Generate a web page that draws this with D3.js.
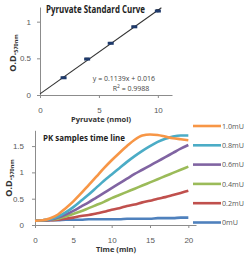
<!DOCTYPE html>
<html lang="en">
<head>
<meta charset="UTF-8">
<title>Pyruvate</title>
<script src="https://d3js.org/d3.v7.min.js"></script>
<style>
  body { margin: 0; background: #fff; }
  svg { display: block; font-family: "Open Sans", "Liberation Sans", sans-serif; }
  .tick text { fill: #595959; font-size: 8px; }
  .axis path, .axis line { stroke: #8c8c8c; }
</style>
</head>
<body>
<svg width="250" height="258"></svg>
<script>
// standard curve
var stdX = [2, 4, 6, 8, 10];
var stdY = [0.235, 0.49, 0.705, 0.93, 1.145];
var stdErr = [0.01, 0.012, 0.012, 0.01, 0.02];
var fitSlope = 0.1139, fitIntercept = 0.016;
var stdXTicks = [0, 5, 10];
var stdYTicks = [0, 0.5, 1];

// PK time line
var minutes = [0,1,2,3,4,5,6,7,8,9,10,11,12,13,14,15,16,17,18,19,20];
var seriesNames = ["1.0mU", "0.8mU", "0.6mU", "0.4mU", "0.2mU", "0mU"];
var od10 = [0.08,0.09,0.13,0.20,0.32,0.45,0.60,0.76,0.92,1.08,1.23,1.37,1.50,1.62,1.70,1.72,1.71,1.68,1.65,1.63,1.61];
var od08 = [0.08,0.09,0.11,0.16,0.24,0.34,0.46,0.58,0.71,0.84,0.96,1.08,1.20,1.31,1.41,1.50,1.58,1.64,1.68,1.70,1.70];
var od06 = [0.08,0.09,0.10,0.14,0.20,0.27,0.35,0.43,0.52,0.61,0.70,0.79,0.88,0.97,1.05,1.13,1.21,1.29,1.37,1.45,1.52];
var od04 = [0.08,0.09,0.10,0.12,0.16,0.21,0.26,0.32,0.38,0.44,0.51,0.57,0.63,0.69,0.75,0.81,0.87,0.93,0.99,1.05,1.11];
var od02 = [0.08,0.08,0.09,0.10,0.12,0.14,0.17,0.19,0.22,0.25,0.29,0.32,0.36,0.39,0.43,0.46,0.50,0.53,0.57,0.61,0.65];
var od00 = [0.08,0.08,0.09,0.09,0.10,0.10,0.10,0.11,0.11,0.11,0.11,0.11,0.12,0.12,0.12,0.12,0.13,0.13,0.13,0.14,0.14];
var seriesColors = ["#F79646", "#4BACC6", "#8064A2", "#9BBB59", "#C0504D", "#4F81BD"];
var pkXTicks = [0, 5, 10, 15, 20];
var pkYTicks = [0, 0.5, 1, 1.5];

var svg = d3.select("svg");

// ---------- top chart ----------
var x1 = d3.scaleLinear().domain([0, 11.2]).range([40, 172]);
var y1 = d3.scaleLinear().domain([0, 1.2]).range([95, 7]);

svg.append("g").attr("class", "axis")
  .attr("transform", "translate(0,95)")
  .call(d3.axisBottom(x1).tickValues(stdXTicks).tickSize(3).tickPadding(9).tickSizeOuter(0));
svg.append("g").attr("class", "axis")
  .attr("transform", "translate(40,0)")
  .call(d3.axisLeft(y1).tickValues(stdYTicks).tickSize(3).tickPadding(6).tickSizeOuter(0)
    .tickFormat(d3.format("")));

svg.append("text").attr("x", 46).attr("y", 13)
  .attr("font-size", 10).attr("font-weight", "bold").attr("fill", "#222")
  .attr("textLength", 99).attr("lengthAdjust", "spacingAndGlyphs")
  .text("Pyruvate Standard Curve");

svg.append("text").attr("x", 101).attr("y", 122).attr("text-anchor", "middle")
  .attr("font-size", 7.5).attr("font-weight", "bold").attr("fill", "#333")
  .text("Pyruvate (nmol)");

var yt1 = svg.append("text").attr("transform", "translate(16,53) rotate(-90)")
  .attr("text-anchor", "middle").attr("fill", "#333").attr("font-weight", "bold");
yt1.append("tspan").attr("font-size", 9).text("O.D.");
yt1.append("tspan").attr("font-size", 5.5).attr("dy", 2).text("570nm");

// fit line
svg.append("line")
  .attr("x1", x1(0)).attr("y1", y1(fitIntercept))
  .attr("x2", x1(10.3)).attr("y2", y1(fitIntercept + fitSlope * 10.3))
  .attr("stroke", "#333").attr("stroke-width", 1.1);

var pts = svg.append("g");
stdX.forEach(function (v, i) {
  var cx = x1(v), cy = y1(stdY[i]);
  pts.append("line").attr("x1", cx).attr("x2", cx)
    .attr("y1", y1(stdY[i] + stdErr[i])).attr("y2", y1(stdY[i] - stdErr[i]))
    .attr("stroke", "#222").attr("stroke-width", 0.8);
  pts.append("line").attr("x1", cx - 2).attr("x2", cx + 2)
    .attr("y1", y1(stdY[i] + stdErr[i])).attr("y2", y1(stdY[i] + stdErr[i]))
    .attr("stroke", "#222").attr("stroke-width", 0.8);
  pts.append("rect").attr("x", cx - 3).attr("y", cy - 1.5)
    .attr("width", 6).attr("height", 3).attr("fill", "#1F3A6B");
});

svg.append("text").attr("x", 155).attr("y", 81).attr("text-anchor", "end")
  .attr("font-size", 7).attr("fill", "#444").text("y = 0.1139x + 0.016");
var r2 = svg.append("text").attr("x", 131).attr("y", 91).attr("text-anchor", "middle")
  .attr("font-size", 7).attr("fill", "#444");
r2.append("tspan").text("R");
r2.append("tspan").attr("font-size", 5).attr("dy", -3).text("2");
r2.append("tspan").attr("dy", 3).text(" = 0.9988");

// ---------- bottom chart ----------
var x2 = d3.scaleLinear().domain([0, 21]).range([35, 196]);
var y2 = d3.scaleLinear().domain([0, 1.8]).range([225, 130.3]);

svg.append("g").attr("class", "axis")
  .attr("transform", "translate(0,225)")
  .call(d3.axisBottom(x2).tickValues(pkXTicks).tickSize(3).tickPadding(9).tickSizeOuter(0));
svg.append("g").attr("class", "axis")
  .attr("transform", "translate(35,0)")
  .call(d3.axisLeft(y2).tickValues(pkYTicks).tickSize(3).tickPadding(8).tickSizeOuter(0)
    .tickFormat(d3.format("")));

svg.append("text").attr("x", 43).attr("y", 141)
  .attr("font-size", 9.5).attr("font-weight", "bold").attr("fill", "#222")
  .attr("textLength", 82).attr("lengthAdjust", "spacingAndGlyphs")
  .text("PK samples time line");

svg.append("text").attr("x", 116).attr("y", 252).attr("text-anchor", "middle")
  .attr("font-size", 7.5).attr("font-weight", "bold").attr("fill", "#333")
  .text("Time (min)");

var yt2 = svg.append("text").attr("transform", "translate(12,178) rotate(-90)")
  .attr("text-anchor", "middle").attr("fill", "#333").attr("font-weight", "bold");
yt2.append("tspan").attr("font-size", 9).text("O.D.");
yt2.append("tspan").attr("font-size", 5.5).attr("dy", 2).text("570nm");

var allSeries = [od10, od08, od06, od04, od02, od00];
var line = d3.line()
  .x(function (d, i) { return x2(minutes[i]); })
  .y(function (d) { return y2(d); })
  .curve(d3.curveMonotoneX);

// draw lowest series first so orange sits on top
allSeries.slice().reverse().forEach(function (s, k) {
  var i = allSeries.length - 1 - k;
  svg.append("path").datum(s)
    .attr("d", line)
    .attr("fill", "none")
    .attr("stroke", seriesColors[i])
    .attr("stroke-width", 2.6)
    .attr("stroke-linejoin", "round");
});

var legend = svg.append("g");
seriesNames.forEach(function (name, i) {
  var ly = 126 + i * 19.3;
  legend.append("line").attr("x1", 193).attr("x2", 221)
    .attr("y1", ly).attr("y2", ly)
    .attr("stroke", seriesColors[i]).attr("stroke-width", 2.6);
  legend.append("text").attr("x", 222).attr("y", ly + 2.6)
    .attr("font-size", 7.2).attr("fill", "#595959").text(name);
});
</script>
</body>
</html>
